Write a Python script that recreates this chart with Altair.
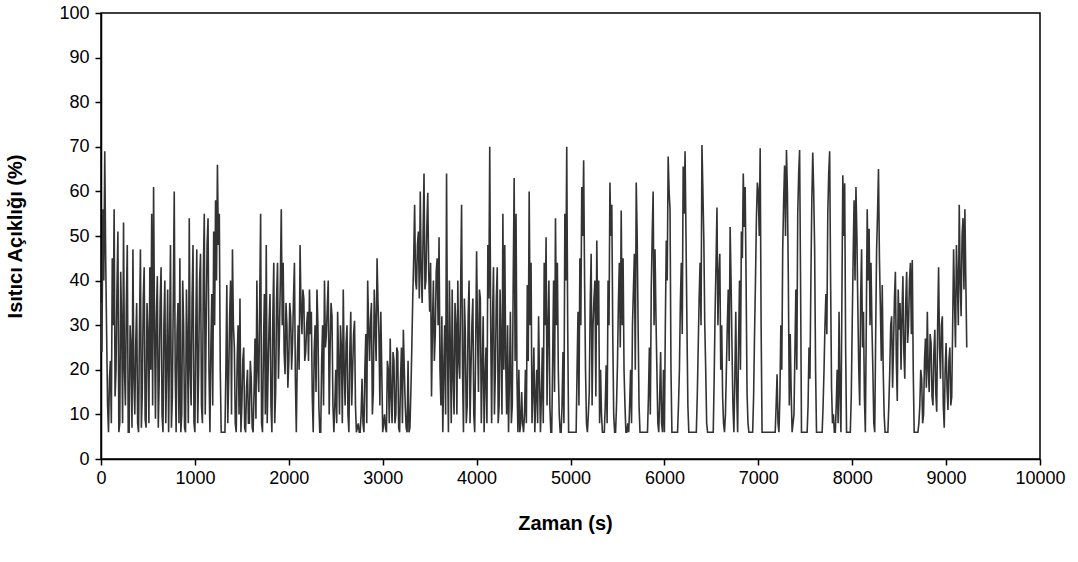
import altair as alt
import pandas as pd

# sampling step of the series (s)
step = 10

# samples at 0, 20, 40, ... s (25 per 500 s)
seg_0000 = [35, 56, 69, 28, 6, 22, 45, 56, 20, 51, 8, 30, 53, 12, 48, 6, 25, 47, 10, 35, 6, 47, 15, 43, 7]
seg_0500 = [28, 43, 55, 61, 9, 41, 18, 43, 6, 40, 22, 6, 48, 14, 60, 6, 35, 45, 10, 30, 6, 25, 54, 12, 48]
seg_1000 = [6, 47, 20, 46, 8, 55, 30, 54, 6, 37, 51, 58, 66, 55, 6, 6, 6, 39, 18, 40, 47, 25, 6, 30, 36]
seg_1500 = [12, 25, 6, 20, 8, 18, 6, 27, 40, 15, 55, 6, 37, 48, 20, 37, 6, 44, 15, 44, 28, 56, 44, 19, 30]
seg_2000 = [22, 32, 26, 44, 6, 30, 48, 28, 36, 24, 33, 38, 33, 6, 30, 38, 12, 6, 30, 40, 28, 40, 25, 32, 6]
seg_2500 = [20, 33, 10, 25, 38, 12, 30, 6, 33, 20, 31, 6, 8, 6, 18, 6, 28, 40, 22, 35, 15, 30, 45, 28, 33]
seg_3000 = [6, 10, 6, 20, 27, 8, 22, 10, 24, 6, 25, 29, 12, 6, 6, 15, 36, 57, 38, 51, 60, 35, 64, 40, 59.7]
seg_3500 = [33, 14, 40, 28, 45, 49.7, 12, 6, 30, 64, 6, 25, 38, 10, 30, 40, 18, 57, 6, 28, 12, 40, 20, 36, 6]
seg_4000 = [46.6, 15, 36, 20, 6, 25, 48, 70, 8, 43, 20, 43, 12, 26, 55, 48, 10, 6, 33, 12, 63, 55, 6, 6, 15]
seg_4500 = [6, 20, 39, 60, 44, 15, 6, 20, 32, 6, 25, 44, 49.7, 29, 12, 6, 40, 54, 44, 10, 6, 24, 55, 70, 6]
seg_5000 = [6, 6, 6, 6, 33, 45, 61, 67, 20, 6, 15, 46, 30, 40, 49, 40, 20, 6, 6, 21, 40, 62, 57, 10, 6]
seg_5500 = [21, 44, 55.7, 45, 12, 6, 6, 20, 30, 46, 62, 30, 6, 6, 6, 6, 6, 25, 38, 60, 47, 20, 6, 24, 6]
seg_6000 = [6, 49, 67.8, 56, 6, 6, 6, 6, 20, 44, 65.6, 69, 30, 6, 6, 6, 6, 6, 25, 44, 70.4, 49, 20, 6, 6]
seg_6500 = [6, 6, 33, 56.4, 41, 20, 14, 6, 20, 38, 52, 25, 6, 33, 6, 40, 51, 64, 61, 15, 6, 6, 6, 28, 54]
seg_7000 = [60, 69.7, 6, 6, 6, 6, 6, 6, 6, 6, 19, 6, 30, 47, 65.8, 69.3, 40, 28, 6, 10, 38, 55, 69.3, 6, 6]
seg_7500 = [6, 6, 25, 40, 68.7, 47, 6, 6, 6, 6, 20, 37, 55, 69, 16, 10, 6, 20, 33, 6, 63.6, 61.8, 6, 6, 6]
seg_8000 = [30, 58, 61, 34, 12, 47, 33, 6, 56, 51.6, 44, 20, 6, 47, 65, 34, 39, 10, 6, 6, 19.7, 32, 25, 42, 13]
seg_8500 = [29, 20, 41, 18, 42, 30, 44, 44.6, 6, 6, 6, 12, 18, 10, 27, 33, 15, 26, 12, 29, 10.6, 43, 18, 32, 7]
seg_9000 = [26, 11, 25, 14, 47, 25, 40, 57, 32, 54, 56, 25]

# samples at 10, 30, 50, ... s (between the ones above)
mid_0000 = [24, 40, 45, 12, 18, 8, 30, 14, 38, 6, 42, 8, 20, 35, 6, 30, 7, 18, 26, 8, 30, 7, 36, 9, 35]
mid_0500 = [8, 20, 12, 30, 32, 7, 35, 10, 30, 8, 38, 26, 7, 36, 20, 28, 8, 6, 40, 7, 38, 8, 20, 36, 8]
mid_1000 = [30, 8, 40, 12, 42, 10, 48, 20, 25, 12, 30, 40, 48, 20, 6, 6, 20, 8, 32, 10, 30, 8, 22, 10, 6]
mid_1500 = [22, 7, 16, 8, 22, 7, 15, 9, 20, 35, 8, 25, 10, 8, 30, 12, 32, 8, 36, 18, 40, 30, 24, 35, 16]
mid_2000 = [35, 20, 36, 18, 22, 20, 34, 38, 22, 30, 22, 28, 14, 24, 15, 30, 6, 22, 12, 25, 34, 10, 35, 12, 12]
mid_2500 = [8, 22, 30, 8, 20, 26, 10, 24, 12, 28, 12, 7, 6, 10, 8, 20, 8, 30, 31, 10, 38, 22, 35, 12, 20]
mid_3000 = [8, 7, 22, 8, 14, 24, 8, 25, 7, 18, 8, 20, 7, 22, 7, 25, 45, 40, 48, 36, 42, 50, 38, 52, 42]
mid_3500 = [44, 30, 22, 42, 30, 20, 32, 20, 10, 24, 40, 8, 18, 35, 10, 22, 38, 20, 36, 8, 32, 8, 30, 10, 25]
mid_4000 = [28, 38, 8, 32, 18, 8, 36, 30, 32, 10, 36, 8, 38, 10, 20, 22, 30, 18, 8, 40, 22, 18, 20, 8, 8]
mid_4500 = [10, 8, 22, 30, 8, 25, 14, 8, 18, 14, 8, 30, 12, 40, 6, 22, 15, 30, 20, 6, 12, 8, 40, 30, 6]
mid_5000 = [6, 6, 6, 20, 12, 30, 50, 40, 8, 10, 35, 12, 36, 14, 30, 8, 10, 6, 12, 8, 30, 50, 28, 6, 12]
mid_5500 = [35, 25, 30, 20, 6, 8, 12, 8, 38, 20, 50, 12, 6, 6, 6, 6, 14, 10, 50, 30, 32, 8, 14, 8, 20]
mid_6000 = [30, 40, 60, 20, 6, 6, 6, 12, 35, 28, 55, 50, 12, 6, 6, 6, 6, 14, 36, 30, 60, 30, 8, 6, 6]
mid_6500 = [6, 18, 44, 30, 46, 30, 8, 10, 30, 22, 40, 12, 18, 15, 26, 20, 45, 52, 40, 8, 6, 6, 14, 40, 62]
mid_7000 = [50, 30, 6, 6, 6, 6, 6, 6, 6, 12, 8, 14, 20, 58, 50, 60, 12, 15, 8, 24, 20, 64, 40, 6, 6]
mid_7500 = [6, 12, 18, 58, 60, 20, 6, 6, 6, 12, 30, 28, 64, 40, 8, 6, 12, 8, 14, 35, 50, 25, 6, 6, 14]
mid_8000 = [45, 40, 50, 20, 36, 25, 14, 30, 40, 30, 30, 8, 28, 55, 45, 22, 20, 6, 6, 12, 30, 16, 36, 22, 38]
mid_8500 = [35, 32, 24, 35, 26, 40, 28, 20, 6, 6, 8, 20, 8, 22, 16, 20, 28, 14, 24, 15, 30, 25, 30, 12, 20]
mid_9000 = [16, 22, 12, 30, 35, 48, 30, 40, 50, 38, 40]

segs = [seg_0000, seg_0500, seg_1000, seg_1500, seg_2000, seg_2500, seg_3000, seg_3500,
        seg_4000, seg_4500, seg_5000, seg_5500, seg_6000, seg_6500, seg_7000, seg_7500,
        seg_8000, seg_8500, seg_9000]
mids = [mid_0000, mid_0500, mid_1000, mid_1500, mid_2000, mid_2500, mid_3000, mid_3500,
        mid_4000, mid_4500, mid_5000, mid_5500, mid_6000, mid_6500, mid_7000, mid_7500,
        mid_8000, mid_8500, mid_9000]

values = []
for s, m in zip(segs, mids):
    for i, v in enumerate(s):
        values.append(v)
        if i < len(m):
            values.append(m[i])
times = [i * step for i in range(len(values))]

x_ticks = [0, 1000, 2000, 3000, 4000, 5000, 6000, 7000, 8000, 9000, 10000]
y_ticks = [0, 10, 20, 30, 40, 50, 60, 70, 80, 90, 100]

df = pd.DataFrame({"t": times, "v": values})

FONT = "Liberation Sans"

chart = alt.Chart(df).mark_line(color="#333333", strokeWidth=1.6).encode(
    x=alt.X("t:Q",
            scale=alt.Scale(domain=[0, 10000], nice=False, zero=False),
            axis=alt.Axis(values=x_ticks, format="d", title="Zaman (s)", grid=False,
                          domainColor="black", domainWidth=1.5, tickColor="black",
                          tickWidth=1.5, tickSize=6, labelPadding=4,
                          labelFont=FONT, labelFontSize=18, labelColor="black",
                          titleFont=FONT, titleFontSize=20, titleFontWeight="bold",
                          titleColor="black", titleX=464, titleY=64, titleBaseline="middle",
                          titleAlign="center",
                          labelFlush=False, labelOverlap=False)),
    y=alt.Y("v:Q",
            scale=alt.Scale(domain=[0, 100], nice=False),
            axis=alt.Axis(values=y_ticks, format="d", title="Isıtıcı Açıklığı (%)", grid=False,
                          domainColor="black", domainWidth=1.5, tickColor="black",
                          tickWidth=1.5, tickSize=6, labelPadding=6,
                          labelFont=FONT, labelFontSize=18, labelColor="black",
                          titleFont=FONT, titleFontSize=20, titleFontWeight="bold",
                          titleColor="black", titleX=-86, titleY=223, titleAngle=-90,
                          titleBaseline="middle", titleAlign="center",
                          labelFlush=False, labelOverlap=False)),
).properties(
    width=939,
    height=446,
    autosize=alt.AutoSizeParams(type="none"),
    padding={"left": 101, "top": 13, "right": 38, "bottom": 103},
    background="white",
).configure_view(stroke="black", strokeWidth=1.5)

chart.save("out.html", embed_options={"renderer": "svg", "actions": False})
